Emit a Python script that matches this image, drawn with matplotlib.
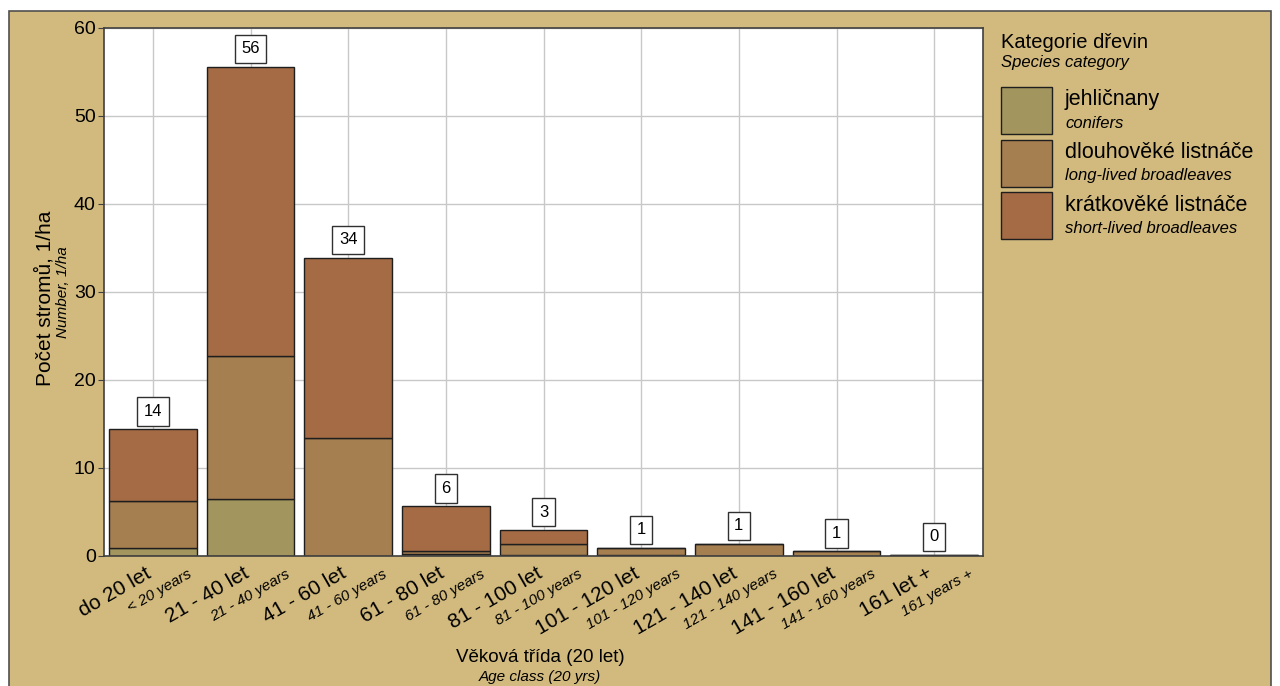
import numpy as np
import matplotlib
matplotlib.use("Agg")
import matplotlib.pyplot as plt
import matplotlib.transforms as mtransforms
from matplotlib.patches import Rectangle

plt.rcParams['font.family'] = ['Liberation Sans', 'DejaVu Sans']

# data
classes_cz = ['do 20 let', '21 - 40 let', '41 - 60 let', '61 - 80 let', '81 - 100 let',
              '101 - 120 let', '121 - 140 let', '141 - 160 let', '161 let +']
classes_en = ['< 20 years', '21 - 40 years', '41 - 60 years', '61 - 80 years', '81 - 100 years',
              '101 - 120 years', '121 - 140 years', '141 - 160 years', '161 years +']
conifers = [0.9, 6.5, 0.0, 0.2, 0.1, 0.1, 0.0, 0.0, 0.0]
long_lived = [5.3, 16.2, 13.4, 0.35, 1.25, 0.8, 1.4, 0.55, 0.15]
short_lived = [8.2, 32.9, 20.5, 5.1, 1.6, 0.05, 0.0, 0.0, 0.0]

series_cz = ['jehličnany', 'dlouhověké listnáče', 'krátkověké listnáče']
series_en = ['conifers', 'long-lived broadleaves', 'short-lived broadleaves']
colors = ['#A3955E', '#A57F50', '#A46B45']
bg = '#D2BA7E'

W, H = 1280, 686
fig = plt.figure(figsize=(W / 100, H / 100), dpi=100, facecolor='white')

def fx(x):
    return x / W

def fy(y):
    return 1 - y / H

# tan panel with border
fig.patches.append(Rectangle((fx(9), fy(700)), fx(1262), fy(11) - fy(700), transform=fig.transFigure,
                             facecolor=bg, edgecolor='#505050', lw=1.2, zorder=-10))

ax = fig.add_axes([fx(104), fy(556), fx(983 - 104), fy(28) - fy(556)])
ax.set_zorder(2)
ax.set_facecolor('white')

x = np.arange(len(classes_cz))
vals = [conifers, long_lived, short_lived]
bottom = np.zeros(len(x))
for v, c in zip(vals, colors):
    ax.bar(x, v, 0.9, bottom=bottom, color=c, edgecolor='#1e1e1e', lw=1, zorder=2)
    bottom = bottom + np.array(v)

totals = bottom
for xi, t in zip(x, totals):
    ax.annotate(f"{t:.0f}", (xi, t), xytext=(0, 12.8), textcoords='offset points',
                ha='center', va='center', fontsize=12, zorder=5,
                bbox=dict(boxstyle='square,pad=0.4', fc='white', ec='#303030', lw=1))

ax.set_xlim(-0.5, len(x) - 0.5)
ax.set_ylim(0, 60)
ax.set_yticks(range(0, 61, 10))
ax.set_xticks(x)
ax.set_xticklabels([])
ax.tick_params(axis='x', length=0)
ax.tick_params(axis='y', length=4, color='#404040', labelsize=14, pad=2)
ax.grid(color='#c8c8c8', lw=1)
ax.set_axisbelow(True)
for s in ax.spines.values():
    s.set_color('#404040')
    s.set_linewidth(1.2)

# two-line rotated category labels
base = mtransforms.blended_transform_factory(ax.transData, ax.transAxes)
for xi, cz, en in zip(x, classes_cz, classes_en):
    t1 = base + mtransforms.ScaledTranslation(-3 / 100, -16 / 100, fig.dpi_scale_trans)
    ax.text(xi, 0, cz, transform=t1, rotation=30, rotation_mode='anchor',
            ha='right', va='center', fontsize=15, clip_on=False)
    t2 = base + mtransforms.ScaledTranslation(38 / 100, -17 / 100, fig.dpi_scale_trans)
    ax.text(xi, 0, en, transform=t2, rotation=30, rotation_mode='anchor',
            ha='right', va='center', fontsize=11, style='italic', clip_on=False)

# axis titles
fig.text(fx(540), fy(658), 'Věková třída (20 let)', ha='center', va='center', fontsize=13.5)
fig.text(fx(540), fy(677), 'Age class (20 yrs)', ha='center', va='center', fontsize=11, style='italic')
fig.text(fx(45), fy(298), 'Počet stromů, 1/ha', ha='center', va='center', rotation=90, fontsize=15)
fig.text(fx(63), fy(292), 'Number, 1/ha', ha='center', va='center', rotation=90, fontsize=11, style='italic')

# legend
fig.text(fx(1001), fy(42), 'Kategorie dřevin', ha='left', va='center', fontsize=14.5)
fig.text(fx(1001), fy(63), 'Species category', ha='left', va='center', fontsize=12, style='italic')
for i, (cz, en, c) in enumerate(zip(series_cz, series_en, colors)):
    top = 87 + i * 52.7
    fig.patches.append(Rectangle((fx(1001), fy(top + 47)), fx(51), fy(top) - fy(top + 47),
                                 transform=fig.transFigure, facecolor=c, edgecolor='#1e1e1e', lw=1))
    fig.text(fx(1065), fy(top + 13), cz, ha='left', va='center', fontsize=15.5)
    fig.text(fx(1065), fy(top + 36), en, ha='left', va='center', fontsize=12, style='italic')

fig.savefig('out.png', dpi=100, facecolor='white')
